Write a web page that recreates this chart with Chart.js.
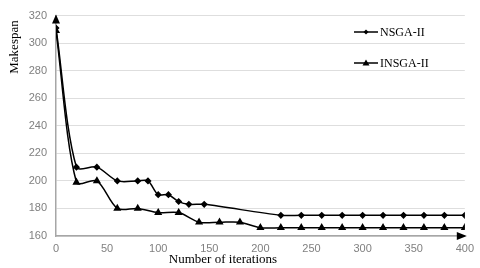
<!DOCTYPE html>
<html>
<head>
<meta charset="utf-8">
<script src="https://cdn.jsdelivr.net/npm/chart.js@4"></script>
<style>
html,body{margin:0;padding:0;background:#fff;}
#wrap{width:480px;height:268px;position:relative;}
</style>
</head>
<body>
<div id="wrap"><canvas id="c" width="480" height="268"></canvas></div>
<script>
const seriesNames = ["NSGA-II", "INSGA-II"];
const nsgaX = [0, 20, 40, 60, 80, 90, 100, 110, 120, 130, 145, 220, 240, 260, 280, 300, 320, 340, 360, 380, 400];
const nsgaY = [311, 210, 210, 200, 200, 200, 190, 190, 185, 183, 183, 175, 175, 175, 175, 175, 175, 175, 175, 175, 175];
const insgaX = [0, 20, 40, 60, 80, 100, 120, 140, 160, 180, 200, 220, 240, 260, 280, 300, 320, 340, 360, 380, 400];
const insgaY = [309, 199, 200, 180, 180, 177, 177, 170, 170, 170, 166, 166, 166, 166, 166, 166, 166, 166, 166, 166, 166];
const xTicks = [0, 50, 100, 150, 200, 250, 300, 350, 400];
const yTicks = [160, 180, 200, 220, 240, 260, 280, 300, 320];
const xTitle = "Number of iterations";
const yTitle = "Makespan";

const toPts = (xs, ys) => xs.map((x, i) => ({x: x, y: ys[i]}));

const extras = {
  id: 'extras',
  afterDraw(chart) {
    const ctx = chart.ctx;
    const xs = chart.scales.x, ys = chart.scales.y;
    const L = xs.left, R = xs.right, T = ys.top, B = ys.bottom;
    ctx.save();
    ctx.fillStyle = '#000';
    ctx.beginPath();
    ctx.moveTo(R + 2, B);
    ctx.lineTo(R - 8, B - 4);
    ctx.lineTo(R - 8, B + 4);
    ctx.closePath();
    ctx.fill();
    ctx.beginPath();
    ctx.moveTo(L, T - 1);
    ctx.lineTo(L - 4, T + 8);
    ctx.lineTo(L + 4, T + 8);
    ctx.closePath();
    ctx.fill();
    ctx.fillStyle = '#000';
    ctx.font = '13px "Liberation Serif", serif';
    ctx.textAlign = 'center';
    ctx.textBaseline = 'middle';
    ctx.fillText(xTitle, 223, 260);
    ctx.save();
    ctx.translate(15, 47);
    ctx.rotate(-Math.PI / 2);
    ctx.fillText(yTitle, 0, 0);
    ctx.restore();
    const legY = [32, 63];
    const ds = chart.data.datasets;
    ctx.font = '12px "Liberation Serif", serif';
    ctx.textAlign = 'left';
    for (let i = 0; i < ds.length; i++) {
      const y = legY[i];
      ctx.strokeStyle = '#000';
      ctx.lineWidth = 1.5;
      ctx.beginPath();
      ctx.moveTo(354, y);
      ctx.lineTo(378, y);
      ctx.stroke();
      ctx.fillStyle = '#000';
      ctx.beginPath();
      if (i === 0) {
        ctx.moveTo(366, y - 2.5); ctx.lineTo(368.5, y); ctx.lineTo(366, y + 2.5); ctx.lineTo(363.5, y);
      } else {
        ctx.moveTo(366, y - 3.5); ctx.lineTo(369.5, y + 2.5); ctx.lineTo(362.5, y + 2.5);
      }
      ctx.closePath();
      ctx.fill();
      ctx.fillText(ds[i].label, 380, y + 1);
    }
    ctx.restore();
  }
};

new Chart(document.getElementById('c'), {
  type: 'line',
  data: {
    datasets: [
      {
        label: seriesNames[0],
        data: toPts(nsgaX, nsgaY),
        borderColor: '#000', backgroundColor: '#000',
        borderWidth: 1.5, tension: 0.3,
        pointStyle: 'rectRot', pointRadius: 2.5, pointHoverRadius: 2.5
      },
      {
        label: seriesNames[1],
        data: toPts(insgaX, insgaY),
        borderColor: '#000', backgroundColor: '#000',
        borderWidth: 1.5, tension: 0.3,
        pointStyle: 'triangle', pointRadius: 3.2, pointHoverRadius: 3.2
      }
    ]
  },
  options: {
    responsive: false,
    animation: false,
    layout: {padding: {left: 0, top: 12, right: 15, bottom: 0}},
    plugins: {legend: {display: false}, tooltip: {enabled: false}},
    scales: {
      x: {
        type: 'linear', min: 0, max: 400,
        afterBuildTicks: s => { s.ticks = xTicks.map(v => ({value: v})); },
        afterFit: s => { s.height = 32; },
        grid: {display: false, drawTicks: false},
        border: {display: true, color: '#a6a6a6', width: 1.5},
        ticks: {color: '#808080', padding: 6, maxRotation: 0, font: {family: '"Liberation Sans", sans-serif', size: 11}}
      },
      y: {
        type: 'linear', min: 160, max: 320,
        afterBuildTicks: s => { s.ticks = yTicks.map(v => ({value: v})); },
        afterFit: s => { s.width = 56; },
        grid: {color: '#dedede', lineWidth: 1, drawTicks: false},
        border: {display: true, color: '#a6a6a6', width: 1.5},
        ticks: {color: '#808080', padding: 9, font: {family: '"Liberation Sans", sans-serif', size: 11}}
      }
    }
  },
  plugins: [extras]
});
</script>
</body>
</html>
